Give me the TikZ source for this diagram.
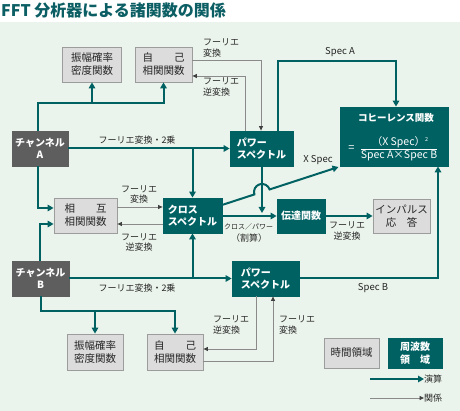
\documentclass[tikz,border=0pt]{standalone}
\usepackage{fontspec}
\setmainfont{Noto Sans CJK JP}
\usetikzlibrary{arrows.meta,calc}
\definecolor{tealc}{HTML}{006163}
\definecolor{titlec}{HTML}{0B5E63}
\definecolor{bgc}{HTML}{EBF4EC}
\definecolor{gfill}{HTML}{DCDCDC}
\definecolor{gbord}{HTML}{9C9C9C}
\definecolor{chgray}{HTML}{5E5E5E}
\definecolor{relc}{HTML}{8A8A8A}
\definecolor{txt}{HTML}{262626}
\begin{document}
\begin{tikzpicture}[x=1pt,y=-1pt,
  gbox/.style={draw=gbord,fill=gfill,line width=0.8pt,inner sep=0pt,align=center,text=txt,font=\fontsize{10.5}{13}\selectfont},
  tbox/.style={draw=tealc,fill=tealc,line width=0.8pt,inner sep=0pt,align=left,text=white,font=\bfseries\fontsize{10}{12.5}\selectfont},
  cbox/.style={draw=chgray,fill=chgray,line width=0.8pt,inner sep=0pt,align=center,text=white,font=\bfseries\fontsize{10}{12.5}\selectfont},
  op/.style={draw=tealc,line width=2pt,-{Triangle[length=6pt,width=6.5pt]}},
  rel/.style={draw=relc,line width=0.8pt,-{Triangle[length=4.5pt,width=4pt,color=black!75]}},
  lab/.style={inner sep=0pt,text=txt,font=\fontsize{9}{10.5}\selectfont},
  wtxt/.style={inner sep=0pt,text=white}
]
\useasboundingbox (0,0) rectangle (460,411);
\fill[bgc] (0,22) rectangle (460,411);
\node[anchor=west,inner sep=0pt,text=titlec,font=\bfseries\fontsize{16}{16}\selectfont] (title) at (1,10.5) {FFT 分析器による諸関数の関係};

% boxes
\node[gbox,minimum width=59pt,minimum height=35pt] (ampA) at (92,64.5) {振幅確率\\密度関数};
\node[gbox,minimum width=57pt,minimum height=35pt] (autoA) at (163.5,64.5) {自　　己\\相関関数};
\node[cbox,minimum width=56pt,minimum height=35pt] (chA) at (40,148.5) {チャンネル\\A};
\node[tbox,minimum width=63pt,minimum height=35pt] (psA) at (261.5,148.5) {パワー\\スペクトル};
\node[draw=tealc,fill=tealc,line width=0.8pt,minimum width=108pt,minimum height=59pt,inner sep=0pt] (coh) at (394,136.5) {};
\node[gbox,minimum width=63pt,minimum height=35pt] (cross) at (85.5,215.5) {相　　互\\相関関数};
\node[tbox,minimum width=59pt,minimum height=35pt] (xsp) at (192.5,215.5) {クロス\\スペクトル};
\node[tbox,minimum width=48pt,minimum height=34pt,align=center] (tf) at (301,216) {伝達関数};
\node[gbox,minimum width=57pt,minimum height=34pt] (imp) at (401.5,216) {インパルス\\応　答};
\node[cbox,minimum width=57pt,minimum height=35pt] (chB) at (40.5,278.5) {チャンネル\\B};
\node[tbox,minimum width=67pt,minimum height=35pt] (psB) at (265.5,278.5) {パワー\\スペクトル};
\node[gbox,minimum width=56pt,minimum height=36pt] (ampB) at (95,352) {振幅確率\\密度関数};
\node[gbox,minimum width=56pt,minimum height=36pt] (autoB) at (175,352) {自　　己\\相関関数};
\node[gbox,minimum width=55pt,minimum height=30pt] (legT) at (351.5,353) {時間領域};
\node[tbox,minimum width=54pt,minimum height=30pt,align=center] (legF) at (415,353) {周波数\\領　域};

% coherence content
\node[wtxt,font=\bfseries\fontsize{9.5}{11}\selectfont] (cohT) at (396,118) {コヒーレンス関数};
\node[wtxt,font=\fontsize{10.5}{12}\selectfont] (cohN) at (400,142) {（X Spec）\raisebox{4pt}{\fontsize{5.5}{6}\selectfont 2}};
\node[wtxt,font=\fontsize{10.5}{12}\selectfont] (cohD) at (399,156) {Spec A×Spec B};
\node[wtxt,font=\fontsize{11}{12}\selectfont] (cohE) at (351.5,148.5) {=};
\draw[white,line width=0.6pt] (cohD.north west |- 0,149) -- (cohD.north east |- 0,149);

% channel A branches
\coordinate (ja) at (38,103);
\draw[op] (chA.north -| ja) -- (ja) -| (autoA.south);
\draw[op] (ja -| ampA.south) -- (ampA.south);
\draw[op] (chA.east) -- (psA.west);
\node[lab] (l1) at (137,140) {フーリエ変換・2乗};
\draw[op] (chA.east -| xsp.north) -- (xsp.north);
\coordinate (jc1) at (38,208);
\draw[op] (chA.south -| jc1) -- (jc1) -- (jc1 -| cross.west);

% channel B branches
\coordinate (jc2) at (40,224);
\draw[op] (chB.north -| jc2) -- (jc2) -- (jc2 -| cross.west);
\draw[op] (chB.east) -- (psB.west);
\node[lab] (l2) at (137,288) {フーリエ変換・2乗};
\draw[op] (chB.east -| xsp.south) -- (xsp.south);
\coordinate (jb) at (41,311);
\draw[op] (chB.south -| jb) -- (jb) -| (autoB.north);
\draw[op] (jb -| ampB.north) -- (ampB.north);

% cross correlation <-> cross spectrum
\coordinate (f1) at (140,207);
\draw[rel] (f1 -| cross.east) -- (f1 -| xsp.west);
\coordinate (f2) at (140,224);
\draw[rel] (f2 -| xsp.west) -- (f2 -| cross.east);
\node[lab,align=center] (l3) at (139,194.5) {フーリエ\\変換};
\node[lab,align=center] (l4) at (139,242.5) {フーリエ\\逆変換};

% Spec A
\coordinate (sa1) at (278,61);
\coordinate (sa2) at (396,61);
\draw[op] (psA.north -| sa1) -- (sa1) -- (sa2) -- (sa2 |- coh.north);
\node[lab,font=\fontsize{9.5}{11}\selectfont] (lsa) at (340,52) {Spec A};

% power A down
\coordinate (pd) at (262,213);
\draw[op] (psA.south -| pd) -- (pd);

% cross -> transfer -> impulse
\draw[op] (xsp.east |- tf.west) -- (tf.west);
\node[lab,font=\fontsize{7}{8}\selectfont] (l5) at (248.5,227) {クロス／パワー};
\node[lab] (l6) at (249,238.5) {（割算）};
\draw[op] (tf.east) -- (imp.west);
\node[lab,align=center] (l7) at (347,231) {フーリエ\\逆変換};

% X Spec with hop
\coordinate (xs1) at (222,205);
\coordinate (h1) at (254.39,194.43);
\coordinate (xs2) at (338.5,167);
\draw[op] (xs1) -- (h1) arc[start angle=198.07,end angle=18.07,radius=8pt] -- (xs2);
\node[lab,font=\fontsize{9.5}{11}\selectfont] (lxs) at (318,160) {X Spec};

% Spec B
\coordinate (sb) at (438,278.5);
\draw[op] (psB.east) -- (sb) -- (sb |- coh.south);
\node[lab,font=\fontsize{9.5}{11}\selectfont] (lsb) at (373,288) {Spec B};

% thin relations top
\coordinate (t1) at (261,60);
\draw[rel] (t1 -| autoA.east) -- (t1) -- (t1 |- psA.north);
\coordinate (t2) at (245,76);
\draw[rel] (psA.north -| t2) -- (t2) -- (t2 -| autoA.east);
\node[lab,anchor=west,align=left] (l8) at (203,48) {フーリエ\\変換};
\node[lab,anchor=west,align=left] (l9) at (203,87) {フーリエ\\逆変換};

% thin relations bottom
\coordinate (b1) at (256,349);
\draw[rel] (psB.south -| b1) -- (b1) -- (b1 -| autoB.east);
\coordinate (b2) at (273,361);
\draw[rel] (b2 -| autoB.east) -- (b2) -- (b2 |- psB.south);
\node[lab,anchor=west,align=left] (l10) at (213,325) {フーリエ\\逆変換};
\node[lab,anchor=west,align=left] (l11) at (279,325) {フーリエ\\変換};

% legend arrows
\node[lab,anchor=west] (lop) at (424,379) {演算};
\coordinate (lg1) at (370,379);
\draw[op] (lg1) -- (lop.west);
\node[lab,anchor=west] (lrel) at (424,398) {関係};
\coordinate (lg2) at (370,398);
\draw[rel] (lg2) -- (lrel.west);
\end{tikzpicture}
\end{document}
